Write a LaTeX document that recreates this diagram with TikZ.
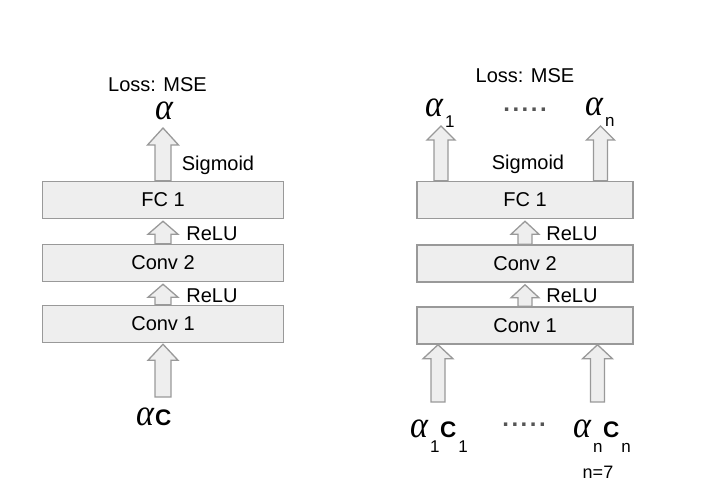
\documentclass[tikz,border=0pt]{standalone}
\usepackage{fontspec,graphicx}
\setmainfont{Liberation Sans}
\newfontfamily\greekfont{Liberation Serif}
\usetikzlibrary{calc}
\definecolor{boxfill}{HTML}{EEEEEE}
\definecolor{boxline}{HTML}{999999}
\definecolor{dotgray}{HTML}{555555}
\tikzset{
  layer/.style = {draw=boxline, fill=boxfill, line width=1.5pt, minimum height=37pt, inner sep=0pt},
  fatarr/.style = {draw=boxline, fill=boxfill, line width=1.3pt, line join=miter},
  lbl/.style = {inner sep=0pt},
  sym/.style = {inner sep=0pt, anchor=base west},
  dots/.style = {inner sep=0pt, text=dotgray, font=\fontsize{24}{24}\selectfont\bfseries}
}
\newcommand{\alphabig}{\raisebox{0pt}[15pt][0pt]{\scalebox{1}[1.1]{\fontsize{34}{34}\selectfont\greekfont\itshape α}}}
\newcommand{\bigC}{{\fontsize{22.5}{22}\selectfont\bfseries C}}
\newcommand{\dsub}[2][11pt]{\raisebox{-#1}{\fontsize{17}{17}\selectfont #2}}
\newcommand{\fatarrow}[5]{%
  \draw[fatarr] let \p1=(#1), \p2=(#2) in
    (\x1-#3,\y1) -- (\x1-#3,\y2-#5) -- (\x1-#4,\y2-#5) -- (\x1,\y2)
    -- (\x1+#4,\y2-#5) -- (\x1+#3,\y2-#5) -- (\x1+#3,\y1) -- cycle;}

\begin{document}
\begin{tikzpicture}[x=1pt, y=-1pt, every node/.style={font=\fontsize{20}{24}\selectfont}]
    \useasboundingbox (0,0) rectangle (705,503);
    % single output
    \node [layer, minimum width=241pt] (fcL) at (163,200) {FC 1};
    \node [layer, minimum width=241pt] (convtwoL) at (163,263) {Conv 2};
    \node [layer, minimum width=241pt] (convoneL) at (163,324) {Conv 1};
    \node [lbl] (lossL) at (157.5,84.5) {Loss: MSE};
    \node [sym] (outL) at (155,120) {\alphabig};
    \node [sym] (inL) at (136,425) {\alphabig\kern1pt\bigC};
    \coordinate (tipL) at (163,128);
    \coordinate (baseL) at (163,397);
    \fatarrow{fcL.north}{tipL}{8pt}{15.5pt}{17pt}
    \fatarrow{convtwoL.north}{[yshift=-2pt]fcL.south}{8pt}{15pt}{13pt}
    \fatarrow{convoneL.north}{[yshift=-2pt]convtwoL.south}{8pt}{15pt}{13pt}
    \fatarrow{baseL}{[yshift=-1pt]convoneL.south}{8pt}{15pt}{16pt}
    \node [lbl] (sigL) at (218,165) {Sigmoid};
    \node [lbl] (reluaL) at (212,234) {ReLU};
    \node [lbl] (relubL) at (212,296) {ReLU};
    % n outputs
    \node [layer, minimum width=216pt] (fcR) at (525,200) {FC 1};
    \node [layer, minimum width=216pt] (convtwoR) at (525,263.5) {Conv 2};
    \node [layer, minimum width=216pt] (convoneR) at (525,325.5) {Conv 1};
    \node [lbl] (lossR) at (525,76) {Loss: MSE};
    \node [sym] (outa) at (425,117) {\alphabig\kern2pt\dsub{1}};
    \node [sym] (outn) at (585,115) {\alphabig\kern2pt\dsub{n}};
    \node [dots] (dotsup) at (525,110) {.\kern2.5pt.\kern2.5pt.\kern2.5pt.\kern2.5pt.};
    \node [sym] (ina) at (410,437) {\alphabig\kern2pt\dsub[15pt]{1}\kern0.5pt\bigC\kern2pt\dsub[15pt]{1}};
    \node [sym] (inn) at (573,437) {\alphabig\kern2pt\dsub[15pt]{n}\kern0.5pt\bigC\kern2pt\dsub[15pt]{n}};
    \node [dots] (dotsdown) at (524,425) {.\kern2.5pt.\kern2.5pt.\kern2.5pt.\kern2.5pt.};
    \node [lbl, font=\fontsize{18}{18}\selectfont] (nval) at (598,472) {n=7};
    \coordinate (tipa) at (441,126);
    \coordinate (tipn) at (600.5,126);
    \coordinate (basea) at (438,402);
    \coordinate (basen) at (597.5,402);
    \fatarrow{tipa |- fcR.north}{tipa}{7pt}{14pt}{14pt}
    \fatarrow{tipn |- fcR.north}{tipn}{7pt}{14pt}{14pt}
    \fatarrow{convtwoR.north}{[yshift=-2pt]fcR.south}{7pt}{14pt}{13pt}
    \fatarrow{convoneR.north}{[yshift=-2pt]convtwoR.south}{7pt}{14pt}{13pt}
    \fatarrow{basea}{basea |- convoneR.south}{7pt}{15pt}{14pt}
    \fatarrow{basen}{basen |- convoneR.south}{7pt}{15pt}{14pt}
    \node [lbl] (sigR) at (528,164) {Sigmoid};
    \node [lbl] (reluaR) at (572,234) {ReLU};
    \node [lbl] (relubR) at (572,296) {ReLU};
\end{tikzpicture}
\end{document}
